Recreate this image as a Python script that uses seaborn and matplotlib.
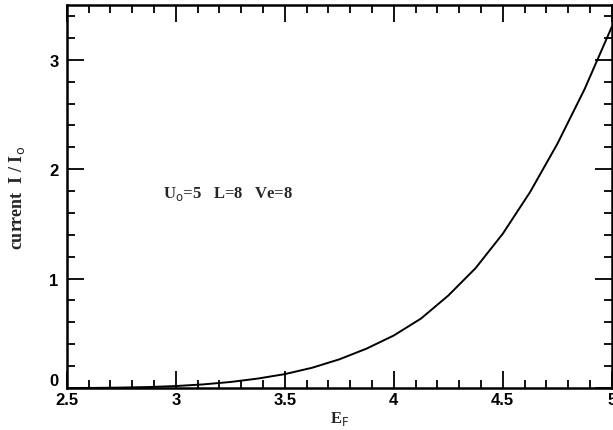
import matplotlib
matplotlib.use("Agg")
import matplotlib.pyplot as plt
import seaborn as sns
import pandas as pd
from matplotlib.ticker import MultipleLocator

# Data
energy_f = [2.5, 2.625, 2.75, 2.875, 3.0, 3.125, 3.25, 3.375, 3.5, 3.625, 3.75,
            3.875, 4.0, 4.125, 4.25, 4.375, 4.5, 4.625, 4.75, 4.875, 5.0]
current = [0.0, 0.001, 0.004, 0.009, 0.018, 0.033, 0.055, 0.086, 0.127, 0.185,
           0.262, 0.36, 0.48, 0.635, 0.845, 1.095, 1.41, 1.79, 2.23, 2.73, 3.30]
x_ticks = [2.5, 3.0, 3.5, 4.0, 4.5, 5.0]
x_tick_labels = ["2.5", "3", "3.5", "4", "4.5", "5"]
y_ticks = [0, 1, 2, 3]
y_tick_labels = ["0", "1", "2", "3"]

df = pd.DataFrame({"E_F": energy_f, "current": current})

sns.set_theme(style="ticks")
plt.rcParams["font.family"] = ["Liberation Serif", "DejaVu Serif"]

fig = plt.figure(figsize=(6.13, 4.31), dpi=100)
ax = fig.add_axes([0.109, 0.0974, 0.889, 0.8886])

sns.lineplot(data=df, x="E_F", y="current", ax=ax, color="black", linewidth=1.4)

ax.set_xlim(2.5, 5.0)
ax.set_ylim(0, 3.5)
ax.set_xticks(x_ticks)
ax.set_xticklabels(x_tick_labels)
ax.set_yticks(y_ticks)
ax.set_yticklabels(y_tick_labels)
ax.xaxis.set_minor_locator(MultipleLocator(0.1))
ax.yaxis.set_minor_locator(MultipleLocator(0.2))

for s in ax.spines.values():
    s.set_visible(True)
    s.set_linewidth(1.8)
    s.set_color("black")

ax.tick_params(which="both", direction="in", top=True, right=True,
               colors="black", labelsize=12)
ax.tick_params(which="major", length=12, width=1.3)
ax.tick_params(which="minor", length=6, width=1.3)
ax.tick_params(axis="y", pad=6)
ax.tick_params(axis="x", pad=3)
for lab in ax.get_xticklabels() + ax.get_yticklabels():
    lab.set_fontweight("bold")
    lab.set_family(["Liberation Sans", "DejaVu Sans"])
ax.get_yticklabels()[0].set_va("bottom")

ax.set_xlabel("E$_\\mathrm{F}$", fontsize=12, fontweight="bold", labelpad=1)
ax.set_ylabel("current  I / I$_\\mathrm{o}$", fontsize=13, fontweight="bold", labelpad=16)

ax.text(2.94, 1.78, "U$_\\mathrm{o}$=5   L=8   Ve=8", fontsize=12, fontweight="bold",
        va="center", ha="left")

fig.savefig("out.png", dpi=100)
